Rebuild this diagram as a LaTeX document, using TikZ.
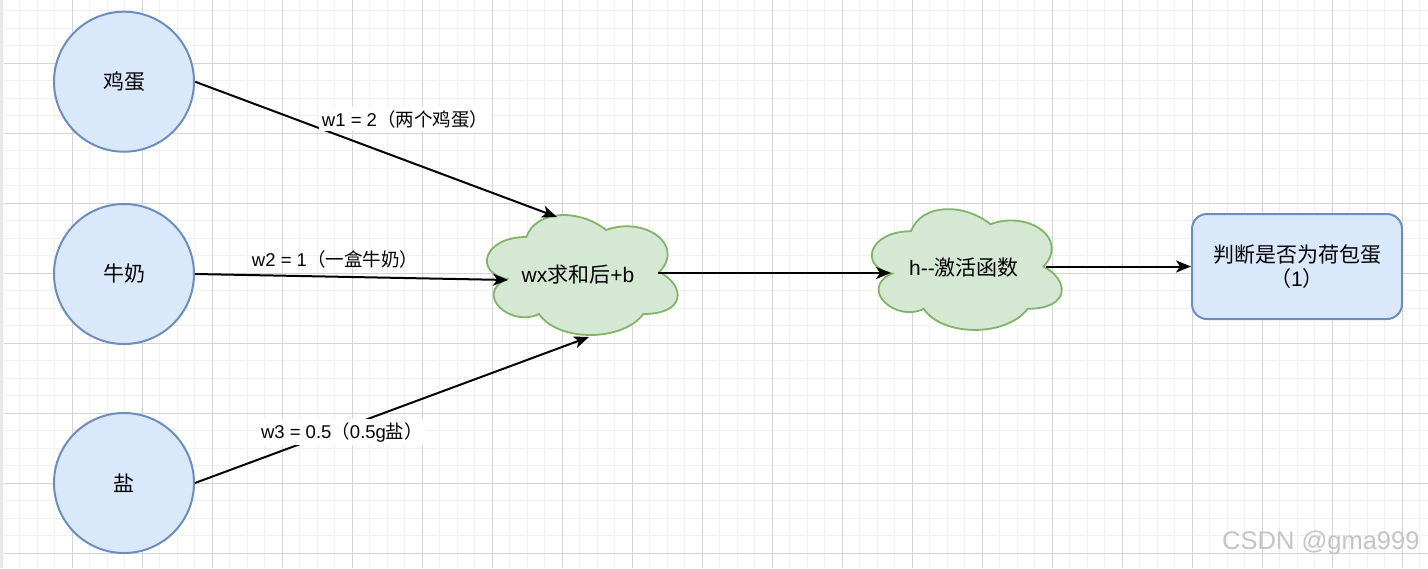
\documentclass[tikz,border=0pt]{standalone}
\usepackage{fontspec}
\setmainfont{Liberation Sans}
\newfontfamily\cjk{Noto Sans CJK SC}
\newfontfamily\wmfont{Liberation Sans}
\usetikzlibrary{arrows.meta}
\definecolor{bluefill}{HTML}{DAE8FC}
\definecolor{bluedraw}{HTML}{6C8EBF}
\definecolor{greenfill}{HTML}{D5E8D4}
\definecolor{greendraw}{HTML}{82B366}
\definecolor{gridminor}{HTML}{F0F0F0}
\definecolor{gridmajor}{HTML}{D4D4D4}
\definecolor{wmgray}{HTML}{C4C4C4}
\tikzset{
  minorline/.style={draw=gridminor, line width=1pt},
  majorline/.style={draw=gridmajor, line width=1pt},
  inputnode/.style={circle, fill=bluefill, draw=bluedraw, line width=2pt, minimum size=140pt, inner sep=0pt, font=\fontsize{21}{25}\selectfont},
  cloudshape/.style={fill=greenfill, draw=greendraw, line width=1.8pt},
  cloudtext/.style={inner sep=0pt, font=\fontsize{21}{25}\selectfont},
  outbox/.style={rectangle, rounded corners=15pt, fill=bluefill, draw=bluedraw, line width=2pt, minimum width=210pt, minimum height=105pt, align=center, font=\fontsize{21}{24}\selectfont},
  conn/.style={draw=black, line width=2pt, -{Stealth[length=15pt,width=12pt,inset=4pt]}},
  wlabel/.style={font=\fontsize{18.5}{22}\selectfont, inner sep=3pt},
  wlabelbg/.style={wlabel, fill=white}
}
\begin{document}
\begin{tikzpicture}[x=1pt,y=-1pt]
\useasboundingbox (0,0) rectangle (1428,568);
\fill[white] (0,0) rectangle (1428,568);
% grid
\foreach \i in {0,...,81} \draw[minorline] ({2+17.5*\i},0) -- ({2+17.5*\i},568);
\foreach \j in {0,...,32} \draw[minorline] (4,{10.5+17.5*\j}) -- (1428,{10.5+17.5*\j});
\foreach \i in {0,...,20} \draw[majorline] ({2+70*\i},0) -- ({2+70*\i},568);
\foreach \j in {0,...,7} \draw[majorline] (4,{63+70*\j}) -- (1428,{63+70*\j});
\fill[gray!18] (0,0) rectangle (3,568);

% input circles
\node[inputnode] (e1) at (124,81.7) {{\cjk 鸡蛋}};
\node[inputnode] (e2) at (124,274) {{\cjk 牛奶}};
\node[inputnode] (e3) at (124,483) {{\cjk 盐}};

% cloud 1
\begin{scope}[shift={(473,202)},x=213pt,y=-140pt]
\path[cloudshape] (0.25,0.25) .. controls (0.05,0.25) and (0,0.5) .. (0.16,0.55)
  .. controls (0,0.66) and (0.18,0.9) .. (0.31,0.8)
  .. controls (0.4,1) and (0.7,1) .. (0.8,0.8)
  .. controls (1,0.8) and (1,0.6) .. (0.875,0.5)
  .. controls (1,0.3) and (0.8,0.1) .. (0.625,0.2)
  .. controls (0.5,0.05) and (0.3,0.05) .. (0.25,0.25) -- cycle;
\end{scope}
\node[cloudtext] (c1) at (578,275) {wx{\cjk 求和后}+b};

% cloud 2
\begin{scope}[shift={(858,196)},x=212pt,y=-141pt]
\path[cloudshape] (0.25,0.25) .. controls (0.05,0.25) and (0,0.5) .. (0.16,0.55)
  .. controls (0,0.66) and (0.18,0.9) .. (0.31,0.8)
  .. controls (0.4,1) and (0.7,1) .. (0.8,0.8)
  .. controls (1,0.8) and (1,0.6) .. (0.875,0.5)
  .. controls (1,0.3) and (0.8,0.1) .. (0.625,0.2)
  .. controls (0.5,0.05) and (0.3,0.05) .. (0.25,0.25) -- cycle;
\end{scope}
\node[cloudtext] (c2) at (964,268) {h\mbox{-}\mbox{-}{\cjk 激活函数}};

% output box
\node[outbox] (r) at (1297,266.5) {{\cjk 判断是否为荷包蛋}\\{\cjk （}1{\cjk ）}};

% connector end points on cloud outlines
\coordinate (t1) at (557,217);
\coordinate (t2) at (508,280);
\coordinate (t3) at (589,337);
\coordinate (s4) at (658,273);
\coordinate (t4) at (891,273);
\coordinate (s5) at (1046,266.5);

% connectors
\draw[conn] (e1.east) -- (t1);
\draw[conn] (e2.east) -- (t2);
\draw[conn] (e3.east) -- (t3);
\draw[conn] (s4) -- (t4);
\draw[conn] (s5) -- (r.west);

% labels
\node[wlabelbg] (l1) at (405,119) {w1 = 2{\cjk （两个鸡蛋）}};
\node[wlabel] (l2) at (335,259) {w2 = 1{\cjk （一盒牛奶）}};
\node[wlabelbg] (l3) at (342,432) {w3 = 0.5{\cjk （}0.5g{\cjk 盐）}};

% watermark
\node[anchor=base west, inner sep=0pt, text=wmgray, font=\wmfont\fontsize{25.5}{30}\selectfont] (wm) at (1222,549) {CSDN @gma999};
\end{tikzpicture}
\end{document}
